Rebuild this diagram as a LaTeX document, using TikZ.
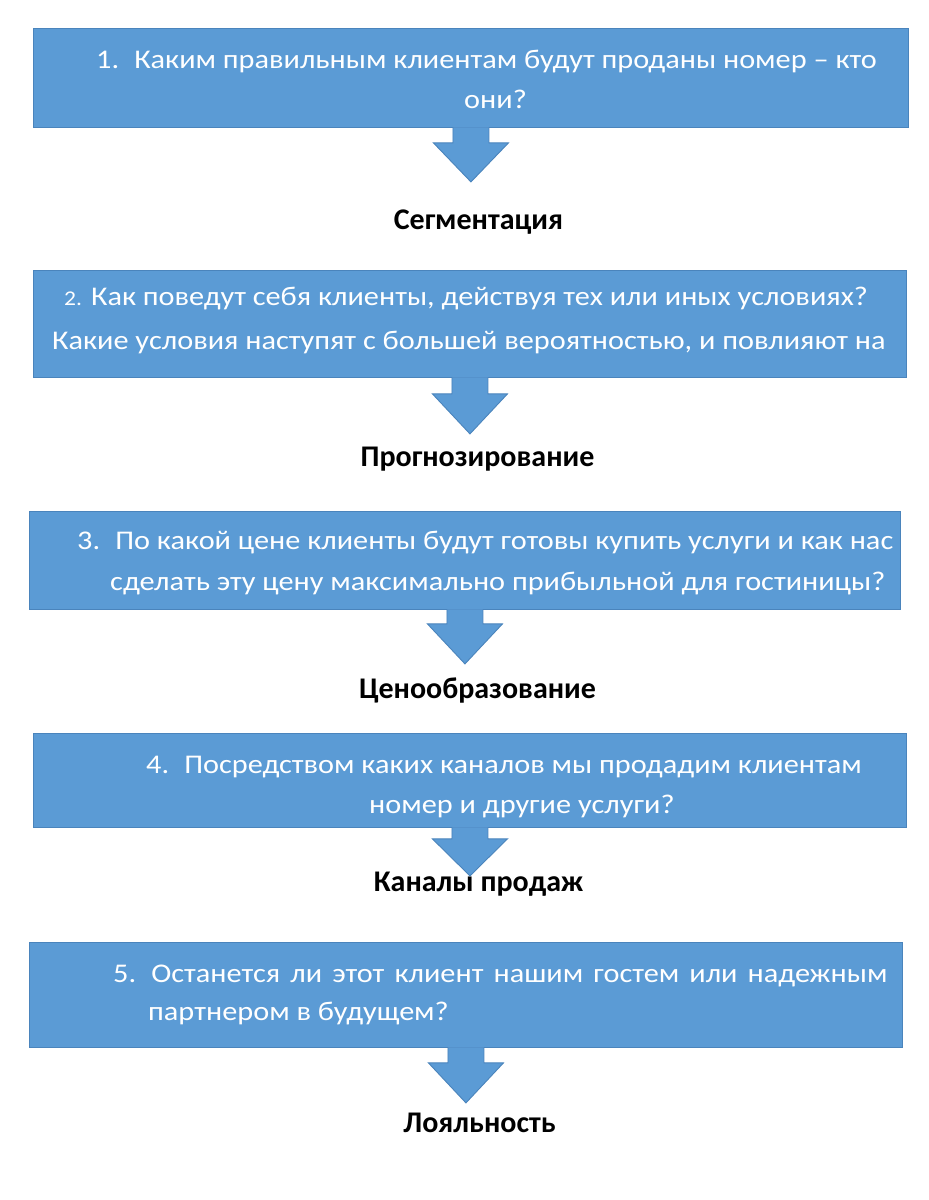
\documentclass[tikz,border=0pt]{standalone}
\usepackage{fontspec}
\setmainfont{Carlito}
\usetikzlibrary{calc}
\definecolor{boxblue}{HTML}{5B9BD5}
\definecolor{boxedge}{HTML}{4A84BC}
\newcommand\blockarrow[3]{\filldraw[arr] ($(#1.south)+(-18,-0.6)$) -- ++(0,#2+0.6) -- ++(-19.5,0) -- ++(37.5,#3-#2) -- ++(37.5,-#3+#2) -- ++(-19.5,0) -- ++(0,-#2-0.6);}
\newcommand\wide[1]{\scalebox{1.122}[1]{#1}}
\begin{document}
\begin{tikzpicture}[x=1pt,y=-1pt,
  box/.style={draw=boxedge, line width=0.9pt, fill=boxblue, inner sep=0pt, anchor=north west},
  arr/.style={draw=boxedge, line width=0.9pt, fill=boxblue, line join=miter},
  ln/.style={text=white, font=\fontsize{27}{31}\selectfont, inner sep=0pt, anchor=base west},
  lab/.style={text=black, font=\bfseries\fontsize{30}{34}\selectfont, inner sep=0pt, anchor=base}]
\fill[white] (0,0) rectangle (929,1200);
\useasboundingbox (0,0) rectangle (929,1200);
% boxes
\node[box, minimum width=875pt, minimum height=99pt] (b1) at (33,28) {};
\node[box, minimum width=873pt, minimum height=107pt] (b2) at (33,270) {};
\node[box, minimum width=871pt, minimum height=98pt] (b3) at (29,511) {};
\node[box, minimum width=873pt, minimum height=94pt] (b4) at (33,733) {};
\node[box, minimum width=873pt, minimum height=105pt] (b5) at (29,942) {};
% text lines
\node[ln] (t1a) at (96,68) {\wide{1.\hspace{0.5em}Каким правильным клиентам будут проданы номер – кто}};
\node[ln] (t1b) at (464,108) {\wide{они?}};
\node[ln] (t2a) at (64,305) {\wide{{\fontsize{21}{24}\selectfont 2.} Как поведут себя клиенты, действуя тех или иных условиях?}};
\node[ln] (t2b) at (52,349) {\wide{Какие условия наступят с большей вероятностью, и повлияют на}};
\node[ln] (t3a) at (77,549) {\wide{3.\hspace{0.5em}По какой цене клиенты будут готовы купить услуги и как нас}};
\node[ln] (t3b) at (110,590) {\wide{сделать эту цену максимально прибыльной для гостиницы?}};
\node[ln] (t4a) at (146,773) {\wide{4.\hspace{0.5em}Посредством каких каналов мы продадим клиентам}};
\node[ln] (t4b) at (369,813) {\wide{номер и другие услуги?}};
\node[ln] (t5a) at (113,982) {\wide{\makebox[690pt][s]{5.\hspace{0.5em}Останется ли этот клиент нашим гостем или надежным}}};
\node[ln] (t5b) at (148,1020) {\wide{партнером в будущем?}};
% labels
\node[lab] (l1) at (478.5,229) {Сегментация};
\node[lab] (l2) at (477.5,466) {Прогнозирование};
\node[lab] (l3) at (477.5,698) {Ценообразование};
\node[lab] (l4) at (478.5,891) {Каналы продаж};
\node[lab] (l5) at (479.5,1132) {Лояльность};
% arrows
\blockarrow{b1}{15}{54}
\blockarrow{b2}{16}{56}
\blockarrow{b3}{14}{54}
\blockarrow{b4}{11}{48}
\blockarrow{b5}{15}{55}
\end{tikzpicture}
\end{document}
